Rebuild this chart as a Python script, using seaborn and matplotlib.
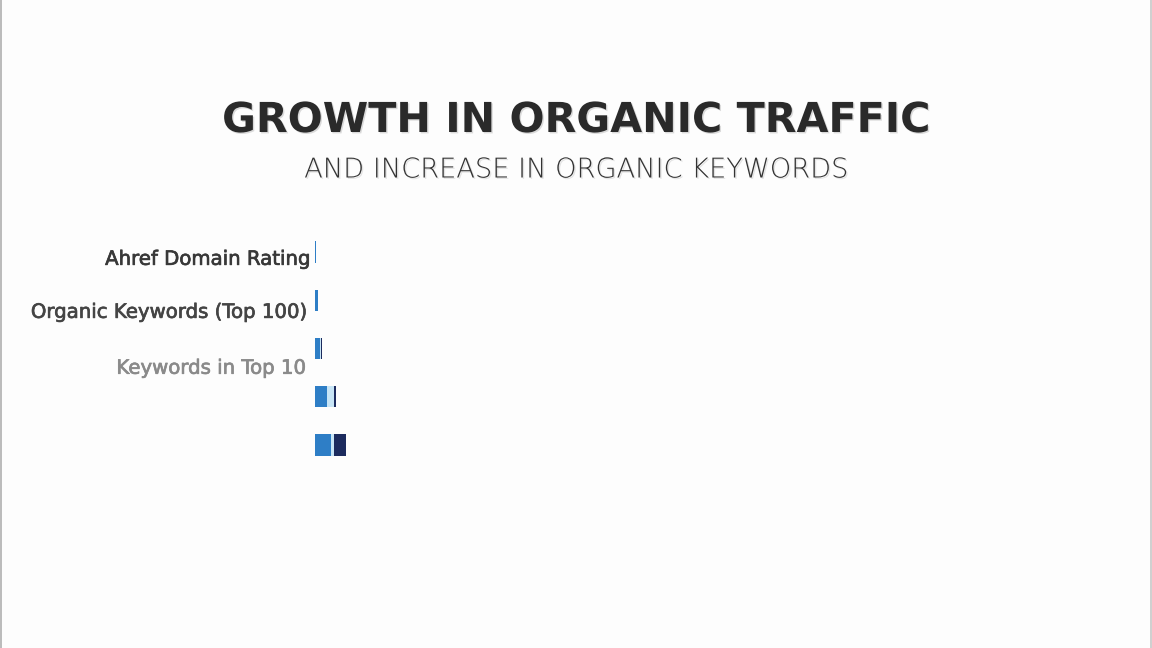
import matplotlib
matplotlib.use("Agg")
import matplotlib.pyplot as plt
import matplotlib.patheffects as pe
import seaborn as sns
import pandas as pd
import numpy as np

# ---- data (frame of an animated stacked bar chart) ----
row_ids = ["r1", "r2", "r3", "r4", "r5"]
row_labels = ["Ahref Domain Rating", "Organic Keywords (Top 100)", "Keywords in Top 10", "", ""]
series_a = [0.6, 2.5, 5.0, 12.0, 16.0]   # medium blue
series_b = [0.0, 0.0, 0.6, 6.5, 2.5]     # light blue
series_c = [0.0, 0.0, 1.4, 2.5, 12.0]    # navy

title = "GROWTH IN ORGANIC TRAFFIC"
subtitle = "AND INCREASE IN ORGANIC KEYWORDS"

col_a = "#2e7ec6"
col_b = "#c8e5f6"
col_c = "#1c2b5e"
bg = "#fdfdfd"

sns.set_theme(style="white")
plt.rcParams['font.family'] = ['DejaVu Sans']

W, H = 1152, 648
fig = plt.figure(figsize=(W / 100, H / 100), dpi=100, facecolor=bg)

# axes placed in pixel coordinates
ax_left, ax_right, ax_top, ax_bottom = 315, 1100, 228, 469
ax = fig.add_axes([ax_left / W, 1 - ax_bottom / H, (ax_right - ax_left) / W, (ax_bottom - ax_top) / H])
ax.set_facecolor(bg)

df = pd.DataFrame({"row": row_ids, "a": series_a, "b": series_b, "c": series_c})
df["ab"] = df["a"] + df["b"]
df["abc"] = df["ab"] + df["c"]

bw = 0.44
sns.barplot(data=df, y="row", x="abc", order=row_ids, color=col_c, orient="h",
            width=bw, saturation=1, ax=ax, linewidth=0)
sns.barplot(data=df, y="row", x="ab", order=row_ids, color=col_b, orient="h",
            width=bw, saturation=1, ax=ax, linewidth=0)
sns.barplot(data=df, y="row", x="a", order=row_ids, color=col_a, orient="h",
            width=bw, saturation=1, ax=ax, linewidth=0)

ax.set_xlim(0, ax_right - ax_left)
ax.set_ylim(len(row_ids) - 0.5, -0.5)
ax.set_xlabel("")
ax.set_ylabel("")
ax.set_xticks([])
ax.set_yticks([])
for s in ax.spines.values():
    s.set_visible(False)

# category labels (mid-animation: slightly offset)
label_dx = [-5, -8, -9]          # px from axis left
label_dy = [0.15, 0.25, 0.41]    # data units below bar centre
label_col = ["#383838", "#444444", "#8a8a8a"]
trans = matplotlib.transforms.blended_transform_factory(ax.transAxes, ax.transData)
for i, lab in enumerate(row_labels):
    if not lab:
        continue
    off = matplotlib.transforms.offset_copy(trans, fig=fig, x=label_dx[i] * 0.72, units="points")
    ax.text(0, i + label_dy[i], lab, transform=off, ha="right", va="center",
            fontsize=14.2, color=label_col[i],
            path_effects=[pe.Stroke(linewidth=0.5, foreground=label_col[i]), pe.Normal()])

# titles
fig.text(0.5, 1 - 121 / H, title, ha="center", va="center", fontsize=29.7,
         fontweight="bold", color="#2a2a2a",
         path_effects=[pe.withSimplePatchShadow(offset=(1, -1), shadow_rgbFace="#999999", alpha=0.35)])
fig.text(0.5, 1 - 170 / H, subtitle, ha="center", va="center", fontsize=19.6,
         fontweight="light", color="#333333",
         path_effects=[pe.withSimplePatchShadow(offset=(1, -1), shadow_rgbFace="#aaaaaa", alpha=0.3)])

# thin side borders
fig.add_artist(plt.Line2D([0.5 / W, 0.5 / W], [0, 1], color="#b0b0b0", lw=1.2, transform=fig.transFigure))
fig.add_artist(plt.Line2D([1 - 1.5 / W, 1 - 1.5 / W], [0, 1], color="#c8c8c8", lw=1.2, transform=fig.transFigure))

fig.savefig("out.png", dpi=100, facecolor=bg)
